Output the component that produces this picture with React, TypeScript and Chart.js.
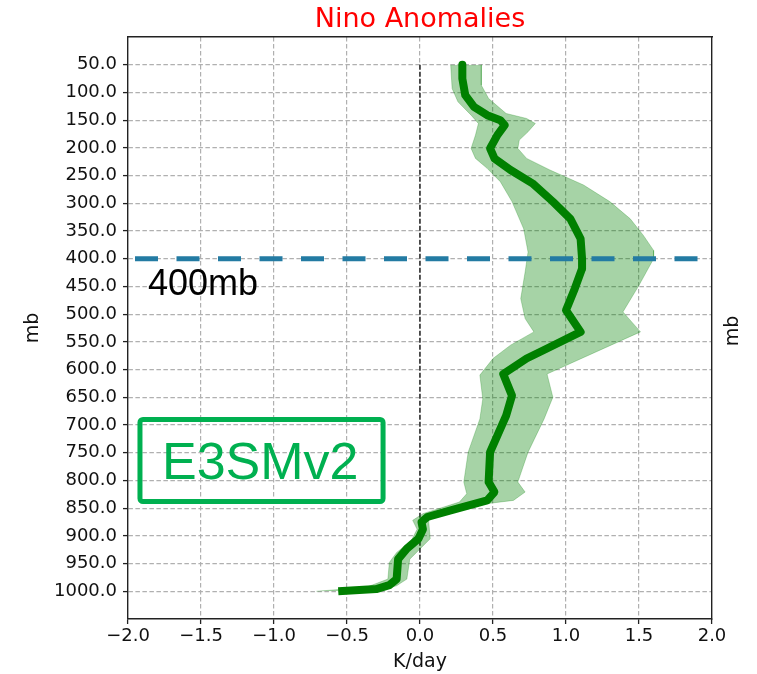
import React, { useEffect, useRef } from 'react';
import { Chart, registerables } from 'chart.js';

Chart.register(...registerables);

// ---- data ----
const pressureTicks = [50, 100, 150, 200, 250, 300, 350, 400, 450, 500, 550, 600, 650, 700, 750, 800, 850, 900, 950, 1000];
const xTickValues = [-2, -1.5, -1, -0.5, 0, 0.5, 1, 1.5, 2];

const meanLevels = [50, 75, 105, 126, 141, 150, 159, 177, 201, 219, 240, 264, 297, 328, 364, 400, 418, 454, 493, 532, 562, 580, 608, 647, 683, 749, 803, 821, 836, 854, 866, 875, 888, 905, 923, 942, 978, 989, 996, 1000];
const meanValues = [0.29, 0.29, 0.31, 0.37, 0.46, 0.55, 0.58, 0.53, 0.48, 0.51, 0.62, 0.77, 0.91, 1.03, 1.10, 1.11, 1.11, 1.06, 1.00, 1.10, 0.87, 0.73, 0.57, 0.63, 0.59, 0.48, 0.47, 0.51, 0.46, 0.21, 0.05, 0.01, 0.02, -0.01, -0.09, -0.15, -0.16, -0.21, -0.30, -0.56];

const lowerLevels = [50, 93, 117, 141, 156, 177, 201, 219, 237, 261, 297, 346, 388, 424, 472, 508, 532, 556, 580, 610, 653, 689, 749, 803, 824, 839, 860, 872, 888, 909, 930, 948, 978, 993, 1000];
const lowerValues = [0.21, 0.22, 0.26, 0.35, 0.40, 0.38, 0.35, 0.38, 0.46, 0.55, 0.63, 0.71, 0.74, 0.72, 0.69, 0.72, 0.78, 0.62, 0.50, 0.41, 0.43, 0.41, 0.33, 0.30, 0.32, 0.27, 0.02, -0.05, -0.02, -0.06, -0.16, -0.21, -0.22, -0.37, -0.71];

const upperLevels = [50, 87, 111, 138, 147, 156, 171, 186, 201, 219, 240, 267, 297, 328, 358, 385, 400, 424, 448, 496, 532, 608, 650, 689, 749, 803, 821, 836, 848, 860, 875, 905, 942, 978, 990, 1000];
const upperValues = [0.42, 0.42, 0.47, 0.59, 0.73, 0.79, 0.74, 0.68, 0.67, 0.73, 0.89, 1.12, 1.30, 1.44, 1.53, 1.60, 1.60, 1.55, 1.50, 1.39, 1.51, 0.87, 0.91, 0.85, 0.74, 0.67, 0.72, 0.64, 0.27, 0.07, 0.06, 0.07, -0.07, -0.09, -0.16, -0.30];

const refLevel = 400;
const titleText = 'Nino Anomalies';
const xTitle = 'K/day';
const yTitle = 'mb';
const refLabel = '400mb';
const modelLabel = 'E3SMv2';

const AXIS_FONT = '"DejaVu Sans", sans-serif';
const ANN_FONT = '"Liberation Sans", Arial, sans-serif';

const toPts = (levels: number[], values: number[]) => levels.map((y, i) => ({ x: values[i], y }));

const fmtX = (v: number) => {
  if (v === 0) return '0.0';
  return v < 0 ? '\u2212' + Math.abs(v).toFixed(1) : v.toFixed(1);
};

const annotationPlugin = {
  id: 'annotations',
  afterDraw(chart: any) {
    const { ctx, scales, chartArea } = chart;
    const xs = scales.x;
    const ys = scales.y;
    ctx.save();
    // 400mb label
    ctx.fillStyle = '#000';
    ctx.font = `36px ${ANN_FONT}`;
    ctx.textAlign = 'left';
    ctx.textBaseline = 'alphabetic';
    ctx.fillText(refLabel, xs.getPixelForValue(-1.863), ys.getPixelForValue(465));

    // E3SMv2 box
    const bx1 = xs.getPixelForValue(-1.918);
    const bx2 = xs.getPixelForValue(-0.253);
    const by1 = ys.getPixelForValue(690);
    const by2 = ys.getPixelForValue(838);
    ctx.strokeStyle = '#00b050';
    ctx.lineWidth = 5;
    ctx.lineJoin = 'round';
    ctx.beginPath();
    if (ctx.roundRect) ctx.roundRect(bx1, by1, bx2 - bx1, by2 - by1, 3);
    else ctx.rect(bx1, by1, bx2 - bx1, by2 - by1);
    ctx.stroke();
    ctx.fillStyle = '#00b050';
    ctx.font = `52px ${ANN_FONT}`;
    ctx.fillText(modelLabel, xs.getPixelForValue(-1.767), ys.getPixelForValue(798));

    // right-hand axis label
    ctx.fillStyle = '#111';
    ctx.font = `19px ${AXIS_FONT}`;
    ctx.translate(chartArea.right + 21, (chartArea.top + chartArea.bottom) / 2 + 3);
    ctx.rotate(-Math.PI / 2);
    ctx.textAlign = 'center';
    ctx.textBaseline = 'middle';
    ctx.fillText(yTitle, 0, 0);
    ctx.restore();
  },
};

export default function App() {
  const canvasRef = useRef<HTMLCanvasElement | null>(null);

  useEffect(() => {
    const canvas = canvasRef.current;
    if (!canvas) return;
    const gridColor = (c: any) => {
      const v = c.tick ? c.tick.value : null;
      return v === -2 || v === 2 ? 'rgba(0,0,0,0)' : '#b0b0b0';
    };
    const chart = new Chart(canvas, {
      type: 'line',
      data: {
        datasets: [
          {
            label: 'ref',
            data: [{ x: -2, y: refLevel }, { x: 2, y: refLevel }],
            borderColor: '#237ba3',
            borderWidth: 5,
            borderDash: [23, 18.5],
            borderDashOffset: 34.5,
            pointRadius: 0,
            fill: false,
          },
          {
            label: 'mean',
            data: toPts(meanLevels, meanValues),
            borderColor: '#008000',
            borderWidth: 8,
            borderJoinStyle: 'round',
            borderCapStyle: 'butt',
            pointRadius: 0,
            fill: false,
          },
          {
            label: 'upper',
            data: toPts(upperLevels, upperValues),
            borderColor: 'rgba(0,128,0,0.25)',
            borderWidth: 1,
            backgroundColor: 'rgba(0,128,0,0.35)',
            pointRadius: 0,
            fill: '+1',
          },
          {
            label: 'lower',
            data: toPts(lowerLevels, lowerValues),
            borderColor: 'rgba(0,128,0,0.25)',
            borderWidth: 1,
            pointRadius: 0,
            fill: false,
          },
          {
            label: 'zero',
            data: [{ x: 0, y: 50 }, { x: 0, y: 1000 }],
            borderColor: '#000',
            borderWidth: 1.2,
            borderDash: [5, 2],
            pointRadius: 0,
            fill: false,
          },
        ],
      } as any,
      options: {
        indexAxis: 'y',
        animation: false,
        responsive: true,
        maintainAspectRatio: false,
        layout: { padding: 0 },
        plugins: {
          legend: { display: false },
          title: { display: false },
          tooltip: { enabled: false },
        },
        scales: {
          x: {
            type: 'linear',
            position: 'bottom',
            min: -2,
            max: 2,
            afterBuildTicks: (s: any) => {
              s.ticks = xTickValues.map((v) => ({ value: v }));
            },
            ticks: {
              callback: (v: any) => fmtX(Number(v)),
              font: { family: AXIS_FONT, size: 18 },
              color: '#111',
              padding: 2,
              maxRotation: 0,
              autoSkip: false,
            },
            grid: {
              color: gridColor,
              lineWidth: 1.2,
              tickLength: 5,
              tickColor: '#222',
              tickWidth: 1.3,
            },
            border: { color: '#222', width: 1.4, dash: [4.5, 2.5] },
            title: {
              display: true,
              text: xTitle,
              color: '#111',
              font: { family: AXIS_FONT, size: 19 },
              padding: { top: 0, bottom: 0.6 },
            },
            afterFit: (s: any) => {
              s.height = 55;
            },
          },
          x2: {
            type: 'linear',
            position: 'top',
            min: -2,
            max: 2,
            ticks: { display: false },
            grid: { display: false, drawTicks: false },
            border: { color: '#222', width: 1.4 },
            title: {
              display: true,
              text: titleText,
              color: '#ff0000',
              font: { family: AXIS_FONT, size: 27 },
              padding: { top: 3.8, bottom: 0 },
            },
            afterFit: (s: any) => {
              s.height = 37;
            },
          },
          y: {
            type: 'linear',
            position: 'left',
            min: 0,
            max: 1050,
            reverse: true,
            afterBuildTicks: (s: any) => {
              s.ticks = pressureTicks.map((v) => ({ value: v }));
            },
            ticks: {
              callback: (v: any) => Number(v).toFixed(1),
              font: { family: AXIS_FONT, size: 18 },
              color: '#111',
              padding: 6,
              autoSkip: false,
            },
            grid: {
              color: '#b0b0b0',
              lineWidth: 1.2,
              tickLength: 5,
              tickColor: '#222',
              tickWidth: 1.3,
            },
            border: { color: '#222', width: 1.4, dash: [4.5, 2.5] },
            title: {
              display: true,
              text: yTitle,
              color: '#111',
              font: { family: AXIS_FONT, size: 19 },
              padding: { top: 21.6, bottom: 0 },
            },
            afterFit: (s: any) => {
              s.width = 128;
            },
          },
          y2: {
            type: 'linear',
            position: 'right',
            min: 0,
            max: 1050,
            reverse: true,
            ticks: { display: false },
            grid: { display: false, drawTicks: false },
            border: { color: '#222', width: 1.4 },
            afterFit: (s: any) => {
              s.width = 45;
            },
          },
        },
      } as any,
      plugins: [annotationPlugin],
    });
    return () => chart.destroy();
  }, []);

  return (
    <div style={{ position: 'absolute', left: 0, top: 0, width: 757, height: 674, background: '#fff' }}>
      <canvas ref={canvasRef} />
    </div>
  );
}
